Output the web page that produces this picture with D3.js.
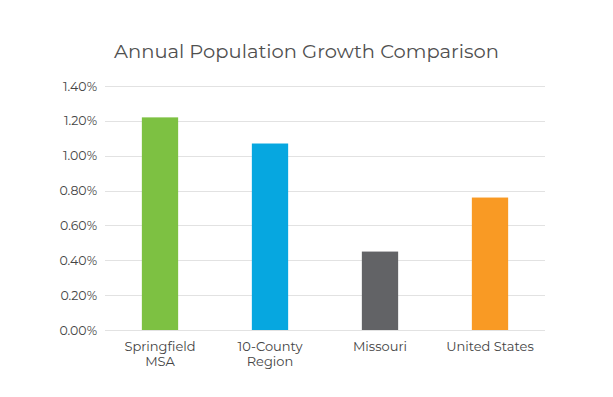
<!DOCTYPE html>
<html>
<head>
<meta charset="utf-8">
<script src="https://cdn.jsdelivr.net/npm/d3@7"></script>
<style>
  body { margin: 0; background: #fff; }
  svg { font-family: "Montserrat", "Lato", "Open Sans", sans-serif; }
</style>
</head>
<body>
<div id="chart"></div>
<script>
var categories = ["Springfield\nMSA", "10-County\nRegion", "Missouri", "United States"];
var growth = [1.22, 1.07, 0.45, 0.76];
var barColors = ["#7dc142", "#06a7e0", "#626366", "#f99a24"];
var yTicks = [0, 0.2, 0.4, 0.6, 0.8, 1.0, 1.2, 1.4];

var width = 613, height = 397;
var plotLeft = 105, plotRight = 545, plotTop = 86, plotBottom = 330;

var svg = d3.select("#chart").append("svg")
  .attr("width", width)
  .attr("height", height);

var xScale = d3.scaleBand()
  .domain(categories)
  .range([plotLeft, plotRight])
  .paddingInner(0.67)
  .paddingOuter(0.335);

var yScale = d3.scaleLinear()
  .domain([0, 1.4])
  .range([plotBottom, plotTop]);

// gridlines
svg.append("g")
  .selectAll("line")
  .data(yTicks)
  .enter()
  .append("line")
    .attr("x1", plotLeft)
    .attr("x2", plotRight)
    .attr("y1", function(d) {return Math.round(yScale(d)) + 0.5;})
    .attr("y2", function(d) {return Math.round(yScale(d)) + 0.5;})
    .style("stroke", "#e2e2e2")
    .style("stroke-width", "1");

var yAxis = d3.axisLeft(yScale)
  .tickValues(yTicks)
  .tickSize(0)
  .tickPadding(8)
  .tickFormat(function(d) {return d.toFixed(2) + "%";});

var yG = svg.append("g")
  .attr("transform", "translate(" + plotLeft + ",0)")
  .call(yAxis);
yG.select(".domain").remove();
yG.selectAll("text")
  .style("font-size", "12.5px")
  .style("fill", "#444")
  .style("font-family", "\"Montserrat\", \"Lato\", \"Open Sans\", sans-serif");

// bars
svg.selectAll(".bar")
  .data(categories)
  .enter()
  .append("rect")
    .attr("class", "bar")
    .attr("x", function(d) {return xScale(d);})
    .attr("width", xScale.bandwidth())
    .attr("y", function(d, i) {return yScale(growth[i]);})
    .attr("height", function(d, i) {return plotBottom - yScale(growth[i]);})
    .style("fill", function(d, i) {return barColors[i];});

// category labels
var xAxis = d3.axisBottom(xScale).tickSize(0).tickFormat("");
var xG = svg.append("g")
  .attr("transform", "translate(0," + plotBottom + ")")
  .call(xAxis);
xG.select(".domain").remove();

xG.selectAll(".tick").each(function(d) {
  var t = d3.select(this).append("text")
    .attr("y", 21)
    .style("text-anchor", "middle")
    .style("font-size", "13px")
    .style("fill", "#444")
    .style("font-family", "\"Montserrat\", \"Lato\", \"Open Sans\", sans-serif");
  d.split("\n").forEach(function(line, i) {
    t.append("tspan")
      .attr("x", 0)
      .attr("dy", i == 0 ? 0 : 15)
      .text(line);
  });
});

svg.append("text")
  .attr("x", width / 2)
  .attr("y", 58)
  .style("text-anchor", "middle")
  .style("font-size", "19.5px")
  .style("fill", "#505050")
  .text("Annual Population Growth Comparison");
</script>
</body>
</html>
